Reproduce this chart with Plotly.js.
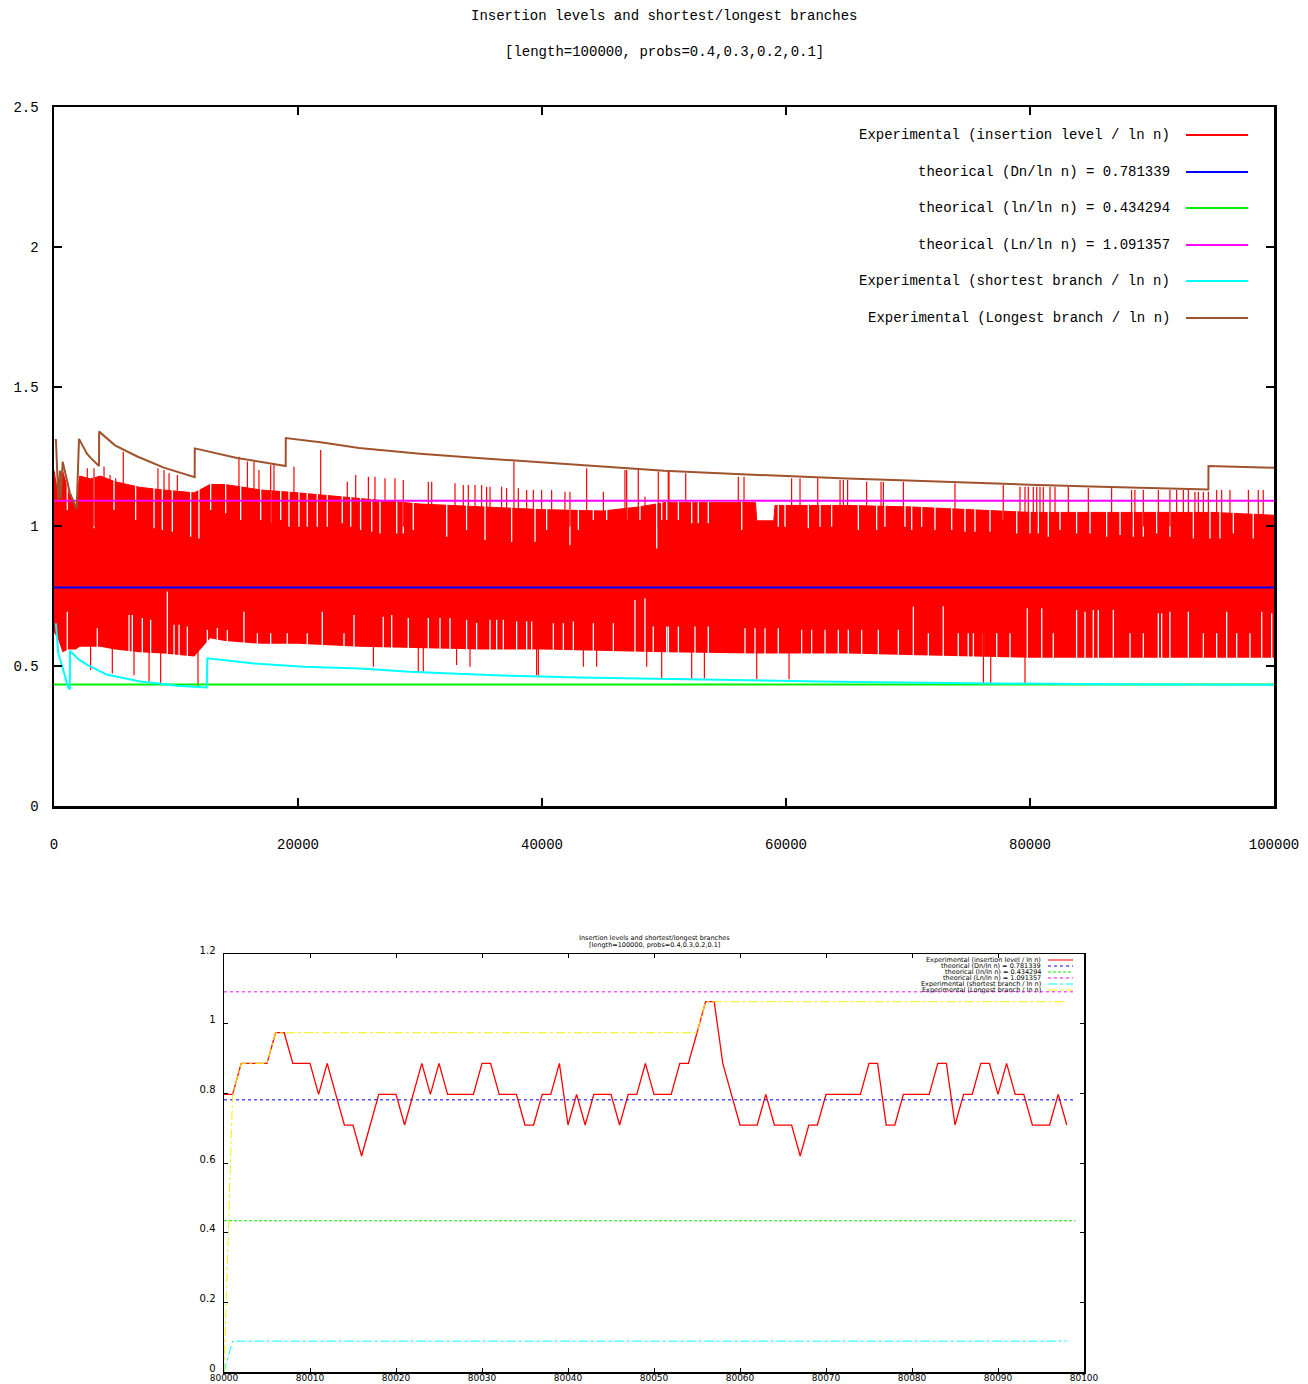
<!DOCTYPE html>
<html>
<head>
<meta charset="utf-8">
<script src="https://cdn.plot.ly/plotly-3.0.1.min.js"></script>
<style>html,body{margin:0;padding:0;background:#fff;}#chart{width:1308px;height:1384px;}</style>
</head>
<body>
<div id="chart"></div>
<script>
// ---------- TOP CHART DATA (n = 0..100000) ----------
const titleLine1 = "Insertion levels and shortest/longest branches";
const titleLine2 = "[length=100000, probs=0.4,0.3,0.2,0.1]";
const legendNames = [
  "Experimental (insertion level / ln n)",
  "theorical (Dn/ln n) = 0.781339",
  "theorical (ln/ln n) = 0.434294",
  "theorical (Ln/ln n) = 1.091357",
  "Experimental (shortest branch / ln n)",
  "Experimental (Longest branch / ln n)"
];
const theoDn = 0.781339;
const theoln = 0.434294;
const theoLn = 1.091357;

// envelope of the dense insertion-level band
const bandX = [0, 300, 700, 1200, 1800, 2100, 3000, 3800, 5000, 7000, 9000, 11500, 12800, 14000, 17000, 20000, 25000, 30000, 35000, 40000, 45000, 48000, 50000, 57500, 57600, 59000, 59100, 65000, 70000, 75000, 80000, 85000, 90000, 95000, 100000];
const bandUpper = [1.20, 1.12, 1.20, 1.12, 1.07, 1.18, 1.17, 1.18, 1.16, 1.14, 1.13, 1.12, 1.15, 1.15, 1.13, 1.12, 1.10, 1.08, 1.07, 1.06, 1.055, 1.07, 1.085, 1.085, 1.02, 1.02, 1.075, 1.075, 1.07, 1.06, 1.05, 1.05, 1.05, 1.05, 1.04];
const bandLower = [0.62, 0.60, 0.55, 0.56, 0.56, 0.57, 0.57, 0.57, 0.56, 0.55, 0.545, 0.535, 0.60, 0.59, 0.58, 0.58, 0.57, 0.565, 0.56, 0.56, 0.555, 0.55, 0.55, 0.545, 0.545, 0.545, 0.545, 0.545, 0.54, 0.535, 0.53, 0.53, 0.53, 0.53, 0.53];

// isolated peaks above the band
const peakUpX = [2730, 3280, 4100, 4590, 5050, 5680, 6280, 8520, 9020, 9430, 10110, 15160, 15850, 16390, 16800, 17760, 18030, 19670, 21860, 24040, 24730,
  25770, 26310, 27130, 27950, 28630, 30680, 30960, 32870, 33550, 33960, 34510, 35050, 35460, 35740, 36690, 37100, 37700, 38060, 38740, 39290, 39970, 40790, 41880, 42290, 43660, 45030, 46800, 46940, 47890, 48440, 49530, 50350,
  50410, 51780, 56090, 56560, 60460, 61150, 62600, 64430, 64700, 65050, 66610, 67790, 67980, 69620, 73850,
  77810, 79180, 79590, 79860, 80270, 80550, 80820, 81090, 81640, 82050, 83140, 84780, 86690, 88330, 88600, 89290, 90520, 91470, 92020, 92570, 92980, 93520, 93800, 94210, 94620, 95300, 95710, 96390, 97900, 98710, 99120];
const peakUpTop = [1.208, 1.208, 1.214, 1.184, 1.172, 1.267, 1.142, 1.208, 1.202, 1.190, 1.184, 1.249, 1.232, 1.232, 1.202, 1.220, 1.220, 1.214, 1.273, 1.160, 1.184,
  1.178, 1.178, 1.172, 1.172, 1.166, 1.160, 1.160, 1.154, 1.148, 1.148, 1.148, 1.148, 1.142, 1.142, 1.142, 1.136, 1.232, 1.136, 1.130, 1.130, 1.130, 1.130, 1.124, 1.124, 1.208, 1.124, 1.202, 1.202, 1.202, 1.106, 1.196, 1.202,
  1.196, 1.190, 1.178, 1.178, 1.172, 1.172, 1.172, 1.166, 1.166, 1.166, 1.160, 1.160, 1.160, 1.160, 1.154,
  1.148, 1.142, 1.142, 1.142, 1.142, 1.142, 1.142, 1.142, 1.142, 1.142, 1.142, 1.136, 1.136, 1.130, 1.130, 1.130, 1.130, 1.130, 1.130, 1.130, 1.130, 1.124, 1.124, 1.124, 1.124, 1.130, 1.130, 1.130, 1.130, 1.130, 1.130];

// isolated dips below the band
const peakDownX = [3000, 4780, 6560, 7790, 8740, 11800, 26180, 29860, 30270, 33000, 34100, 39560, 39700, 43390, 44480, 48580, 49810, 52270, 53310, 57600, 60250, 76180, 76780, 79590];
const peakDownBottom = [0.486, 0.474, 0.468, 0.445, 0.439, 0.427, 0.498, 0.480, 0.480, 0.504, 0.498, 0.468, 0.468, 0.498, 0.498, 0.498, 0.456, 0.456, 0.456, 0.453, 0.453, 0.439, 0.439, 0.439];

// white gaps reaching down from the top of the band
const gapTopX = [1090, 3280, 4920, 6690, 8200, 8880, 9700, 11200, 11880, 12840, 14070, 15300, 16940, 17760, 18580, 19260, 20080, 20760, 21580, 22400, 23630, 24320, 25130,
  26040, 26720, 28090, 28630, 29450, 32190, 33820, 35330, 37510, 39430, 40380, 42290, 42980, 44210, 45300, 46940, 48030, 49400, 49810, 50220,
  50360, 51180, 52270, 52810, 53630, 56370, 59370, 59920, 61830, 62790, 63740, 65930, 67430, 68110, 69750, 70300, 71120, 72210, 73580, 74670,
  75490, 76720, 77810, 78910, 80000, 80680, 81500, 82460, 83820, 84920, 86280, 87380, 88470, 89290, 90380, 91470, 93390, 94750, 95570, 96670, 98300];
const gapTopBottom = [1.059, 0.993, 1.059, 1.023, 0.993, 0.987, 0.981, 0.963, 0.957, 1.059, 1.047, 1.023, 1.023, 1.011, 1.023, 0.999, 0.999, 0.999, 0.999, 0.999, 1.011, 0.999, 0.987,
  0.981, 0.975, 0.975, 0.975, 0.987, 0.963, 0.987, 0.951, 0.945, 0.945, 0.987, 0.933, 0.987, 1.023, 1.023, 1.023, 1.023, 0.921, 1.023, 1.023,
  1.023, 1.023, 1.011, 1.011, 1.011, 0.987, 0.999, 0.999, 0.993, 0.999, 0.999, 0.987, 0.987, 0.999, 0.999, 0.987, 0.999, 0.987, 0.987, 0.981,
  0.981, 0.981, 1.023, 0.975, 0.975, 0.975, 0.963, 0.987, 0.975, 0.975, 0.963, 0.969, 0.963, 0.963, 0.975, 0.963, 0.957, 0.957, 0.957, 0.975, 0.957];

// white gaps reaching up from the bottom of the band
const gapBottomX = [1090, 3550, 6150, 6420, 7240, 7920, 9290, 9840, 10250, 10930, 12570, 13390, 14210, 15570, 16670, 17760, 19120, 20760, 21990, 23770, 24590,
  26990, 27680, 29040, 30680, 31640, 32460, 33820, 34640, 35740, 36280, 36830, 37920, 38740, 39150, 40930, 41750, 42570, 44210, 45850, 47620, 48440, 49120, 50220,
  50360, 51180, 52540, 53630, 56640, 57460, 58280, 59370, 61280, 62100, 63200, 64290, 65110, 66200, 67570, 69210, 70440, 71670, 72890, 74120, 74940,
  75360, 76180, 77270, 78360, 79780, 80960, 81910, 83820, 84510, 85190, 85600, 86830, 88200, 89290, 90520, 90790, 91470, 92980, 94210, 95300, 96120, 96940, 98030, 98990, 99810];
const gapBottomTop = [0.695, 0.636, 0.683, 0.683, 0.672, 0.666, 0.767, 0.648, 0.648, 0.642, 0.630, 0.636, 0.630, 0.695, 0.618, 0.618, 0.618, 0.618, 0.695, 0.618, 0.683,
  0.677, 0.683, 0.672, 0.672, 0.672, 0.672, 0.666, 0.654, 0.666, 0.666, 0.666, 0.660, 0.660, 0.660, 0.654, 0.654, 0.660, 0.654, 0.654, 0.737, 0.743, 0.642, 0.642,
  0.642, 0.642, 0.642, 0.642, 0.636, 0.636, 0.636, 0.636, 0.630, 0.630, 0.630, 0.630, 0.630, 0.630, 0.630, 0.630, 0.714, 0.618, 0.714, 0.618, 0.618,
  0.618, 0.618, 0.618, 0.618, 0.707, 0.707, 0.618, 0.701, 0.695, 0.701, 0.701, 0.701, 0.618, 0.618, 0.689, 0.689, 0.695, 0.695, 0.618, 0.618, 0.695, 0.618, 0.618, 0.695, 0.689];

const longestX = [60, 160, 355, 490, 560, 710, 1300, 1860, 2050, 2700, 3000, 3690, 3700, 5000, 6830, 9000, 11530, 11540, 15000, 18990, 19000, 22000, 25000, 30000, 35000, 40000, 45000, 50000, 55000, 60000, 65000, 70000, 75000, 80000, 85000, 90000, 94620, 94630, 100000];
const longestY = [1.31, 1.309, 1.094, 1.20, 1.10, 1.231, 1.12, 1.063, 1.313, 1.26, 1.245, 1.216, 1.339, 1.29, 1.25, 1.21, 1.176, 1.279, 1.245, 1.216, 1.316, 1.30, 1.28, 1.26, 1.244, 1.229, 1.214, 1.199, 1.189, 1.179, 1.171, 1.164, 1.156, 1.149, 1.143, 1.137, 1.132, 1.216, 1.210];

const shortestX = [150, 355, 760, 1175, 1300, 1310, 2000, 2732, 4320, 7050, 8960, 10050, 12520, 12570, 16390, 20490, 25080, 29180, 33010, 37380, 43110, 48990, 55960, 64150, 75080, 86800, 100000];
const shortestY = [0.653, 0.546, 0.486, 0.422, 0.418, 0.555, 0.525, 0.505, 0.470, 0.445, 0.436, 0.430, 0.424, 0.528, 0.510, 0.498, 0.492, 0.480, 0.473, 0.466, 0.460, 0.455, 0.449, 0.444, 0.439, 0.435, 0.434];

// ---------- BOTTOM CHART DATA (zoom n = 80000..80098) ----------
const zoomStart = 80000;
const zoomLevel = [0.797, 0.797, 0.886, 0.886, 0.886, 0.886, 0.974, 0.974, 0.886, 0.886,
  0.886, 0.797, 0.886, 0.797, 0.709, 0.709, 0.620, 0.709, 0.797, 0.797,
  0.797, 0.709, 0.797, 0.886, 0.797, 0.886, 0.797, 0.797, 0.797, 0.797,
  0.886, 0.886, 0.797, 0.797, 0.797, 0.709, 0.709, 0.797, 0.797, 0.886,
  0.709, 0.797, 0.709, 0.797, 0.797, 0.797, 0.709, 0.797, 0.797, 0.886,
  0.797, 0.797, 0.797, 0.886, 0.886, 0.974, 1.063, 1.063, 0.886, 0.797,
  0.709, 0.709, 0.709, 0.797, 0.709, 0.709, 0.709, 0.620, 0.709, 0.709,
  0.797, 0.797, 0.797, 0.797, 0.797, 0.886, 0.886, 0.709, 0.709, 0.797,
  0.797, 0.797, 0.797, 0.886, 0.886, 0.709, 0.797, 0.797, 0.886, 0.886,
  0.797, 0.886, 0.797, 0.797, 0.709, 0.709, 0.709, 0.797, 0.709];
const zoomLongestX = [80000, 80001, 80002, 80005, 80006, 80055, 80056, 80098];
const zoomLongestY = [0, 0.797, 0.886, 0.886, 0.974, 0.974, 1.063, 1.063];
const zoomShortestX = [80000, 80001, 80098];
const zoomShortestY = [0, 0.0886, 0.0886];
const zoomTheoX = [80000, 80099];

// ---------- BUILD ----------
const MONO = "Liberation Mono, DejaVu Sans Mono, monospace";
const SANS = "DejaVu Sans, Liberation Sans, sans-serif";
const RED = "#ff0000", BLUE = "#0000ff", GREEN = "#00ee00", MAGENTA = "#ff00ff", CYAN = "#00ffff", BROWN = "#a0522d", YELLOW = "#f2f200";

function segments(xs, fromVal, tos) {
  const X = [], Y = [];
  xs.forEach((x, i) => { X.push(x, x, null); Y.push(fromVal, tos[i], null); });
  return {x: X, y: Y};
}
const traces = [];
// band
traces.push({x: bandX, y: bandLower, mode: "lines", line: {width: 0, color: RED}, hoverinfo: "skip", xaxis: "x", yaxis: "y"});
traces.push({x: bandX, y: bandUpper, mode: "lines", fill: "tonexty", fillcolor: RED, line: {width: 1, color: RED}, xaxis: "x", yaxis: "y", name: legendNames[0]});
// white gaps
const gT = segments(gapTopX, 1.36, gapTopBottom);
traces.push({x: gT.x, y: gT.y, mode: "lines", line: {width: 1.3, color: "#ffffff"}, xaxis: "x", yaxis: "y", hoverinfo: "skip"});
const gB = segments(gapBottomX, 0.40, gapBottomTop);
traces.push({x: gB.x, y: gB.y, mode: "lines", line: {width: 1.3, color: "#ffffff"}, xaxis: "x", yaxis: "y", hoverinfo: "skip"});
// spikes
const pU = segments(peakUpX, 1.0, peakUpTop);
traces.push({x: pU.x, y: pU.y, mode: "lines", line: {width: 1.2, color: RED}, xaxis: "x", yaxis: "y", hoverinfo: "skip"});
const pD = segments(peakDownX, 0.7, peakDownBottom);
traces.push({x: pD.x, y: pD.y, mode: "lines", line: {width: 1.2, color: RED}, xaxis: "x", yaxis: "y", hoverinfo: "skip"});
// theoretical
traces.push({x: [0, 100000], y: [theoDn, theoDn], mode: "lines", line: {width: 2, color: BLUE}, xaxis: "x", yaxis: "y", name: legendNames[1]});
traces.push({x: [0, 100000], y: [theoln, theoln], mode: "lines", line: {width: 2, color: GREEN}, xaxis: "x", yaxis: "y", name: legendNames[2]});
traces.push({x: [0, 100000], y: [theoLn, theoLn], mode: "lines", line: {width: 2, color: MAGENTA}, xaxis: "x", yaxis: "y", name: legendNames[3]});
traces.push({x: shortestX, y: shortestY, mode: "lines", line: {width: 2, color: CYAN}, xaxis: "x", yaxis: "y", name: legendNames[4]});
traces.push({x: longestX, y: longestY, mode: "lines", line: {width: 2, color: BROWN}, xaxis: "x", yaxis: "y", name: legendNames[5]});

// bottom chart
const zoomX = zoomLevel.map((v, i) => zoomStart + i);
traces.push({x: zoomX, y: zoomLevel, mode: "lines", line: {width: 1.3, color: RED}, xaxis: "x2", yaxis: "y2", name: legendNames[0]});
traces.push({x: zoomTheoX, y: [theoDn, theoDn], mode: "lines", line: {width: 1, color: BLUE, dash: "dot"}, xaxis: "x2", yaxis: "y2", name: legendNames[1]});
traces.push({x: zoomTheoX, y: [theoln, theoln], mode: "lines", line: {width: 1, color: GREEN, dash: "3px,2px"}, xaxis: "x2", yaxis: "y2", name: legendNames[2]});
traces.push({x: zoomTheoX, y: [theoLn, theoLn], mode: "lines", line: {width: 1, color: MAGENTA, dash: "dot"}, xaxis: "x2", yaxis: "y2", name: legendNames[3]});
traces.push({x: zoomShortestX, y: zoomShortestY, mode: "lines", line: {width: 1, color: CYAN, dash: "dashdot"}, xaxis: "x2", yaxis: "y2", name: legendNames[4]});
traces.push({x: zoomLongestX, y: zoomLongestY, mode: "lines", line: {width: 1, color: YELLOW, dash: "dashdot"}, xaxis: "x2", yaxis: "y2", name: legendNames[5]});

const W = 1308, H = 1384;
const px = v => v / W, py = v => (H - v) / H;

const annotations = [];
const shapes = [];
annotations.push({text: titleLine1, xref: "paper", yref: "paper", x: px(664), y: py(16), xanchor: "center", yanchor: "middle", showarrow: false, font: {family: MONO, size: 14, color: "#000"}});
annotations.push({text: titleLine2, xref: "paper", yref: "paper", x: px(664), y: py(52), xanchor: "center", yanchor: "middle", showarrow: false, font: {family: MONO, size: 14, color: "#000"}});
const topRows = [135, 172, 208, 245, 281, 318];
const topColors = [RED, BLUE, GREEN, MAGENTA, CYAN, BROWN];
legendNames.forEach((n, i) => {
  annotations.push({text: n, xref: "paper", yref: "paper", x: px(1172), y: py(topRows[i]), xanchor: "right", yanchor: "middle", showarrow: false, font: {family: MONO, size: 14, color: "#000"}});
  shapes.push({type: "line", xref: "paper", yref: "paper", x0: px(1186), x1: px(1248), y0: py(topRows[i]), y1: py(topRows[i]), line: {color: topColors[i], width: 2}});
});
annotations.push({text: titleLine1, xref: "paper", yref: "paper", x: px(654), y: py(938.5), xanchor: "center", yanchor: "middle", showarrow: false, font: {family: SANS, size: 6.5, color: "#000"}});
annotations.push({text: titleLine2, xref: "paper", yref: "paper", x: px(654), y: py(944.5), xanchor: "center", yanchor: "middle", showarrow: false, font: {family: SANS, size: 6.5, color: "#000"}});
const botRows = [960, 966, 972, 978, 984, 990];
const botDash = ["solid", "dot", "3px,2px", "dot", "dashdot", "dashdot"];
const botColors = [RED, BLUE, GREEN, MAGENTA, CYAN, YELLOW];
legendNames.forEach((n, i) => {
  annotations.push({text: n, xref: "paper", yref: "paper", x: px(1043), y: py(botRows[i]), xanchor: "right", yanchor: "middle", showarrow: false, font: {family: SANS, size: 6.5, color: "#000"}});
  shapes.push({type: "line", xref: "paper", yref: "paper", x0: px(1048), x1: px(1073), y0: py(botRows[i]), y1: py(botRows[i]), line: {color: botColors[i], width: 1, dash: botDash[i]}});
});

const axBase = {showgrid: false, zeroline: false, showline: true, linecolor: "#000", mirror: "ticks", ticks: "inside", tickcolor: "#000"};
const layout = {
  width: W, height: H, margin: {l: 0, r: 0, t: 0, b: 0},
  paper_bgcolor: "#fff", plot_bgcolor: "#fff", showlegend: false,
  xaxis: Object.assign({}, axBase, {domain: [px(54), px(1274)], range: [0, 100000], anchor: "y", dtick: 20000, tick0: 0, tickformat: "d", linewidth: 2.5, ticklen: 8, tickwidth: 2, tickfont: {family: MONO, size: 14, color: "#000"}, ticklabelstandoff: 24}),
  yaxis: Object.assign({}, axBase, {domain: [1 - 806 / H, 1 - 107 / H], range: [0, 2.5], anchor: "x", dtick: 0.5, tick0: 0, linewidth: 2.5, ticklen: 8, tickwidth: 2, tickfont: {family: MONO, size: 14, color: "#000"}, ticklabelstandoff: 10}),
  xaxis2: Object.assign({}, axBase, {domain: [px(224), px(1084)], range: [80000, 80100], anchor: "y2", dtick: 10, tick0: 80000, tickformat: "d", linewidth: 1.5, ticklen: 4, tickwidth: 1, tickfont: {family: SANS, size: 9, color: "#000"}, ticklabelstandoff: -3}),
  yaxis2: Object.assign({}, axBase, {domain: [12 / H, 430 / H], range: [0, 1.2], anchor: "x2", dtick: 0.2, tick0: 0, linewidth: 1.5, ticklen: 4, tickwidth: 1, tickfont: {family: SANS, size: 10, color: "#000"}, ticklabelstandoff: 5, ticklabelshift: -4}),
  annotations: annotations, shapes: shapes
};
Plotly.newPlot("chart", traces, layout, {displayModeBar: false, staticPlot: true});
</script>
</body>
</html>
